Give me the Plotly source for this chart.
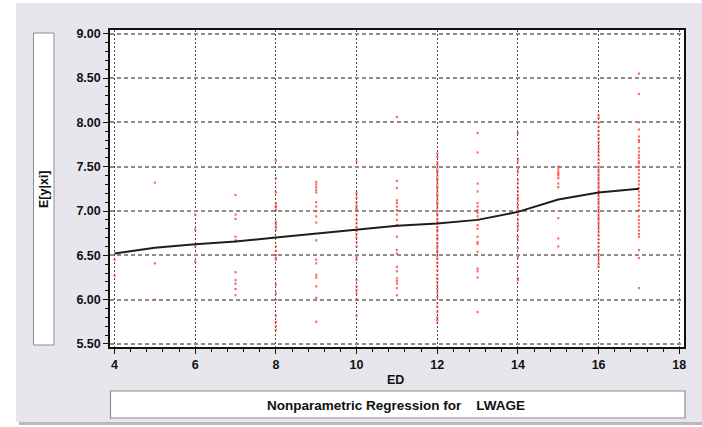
import plotly.graph_objects as go

# ---------------- data ----------------
lw_4 = [6.45, 6.27]
lw_5 = [7.32, 6.41, 6.00]
lw_6 = [6.96, 6.79, 6.60, 6.43]
lw_7 = [7.18, 6.96, 6.91, 6.71, 6.67, 6.66, 6.31, 6.22, 6.18, 6.12, 6.05]
lw_8 = [7.57, 7.37, 7.21, 7.09, 7.06, 7.04, 7.01, 6.88, 6.85, 6.82, 6.79, 6.60,
        6.55, 6.50, 6.47, 6.45, 6.17, 6.07, 6.00, 5.82, 5.75, 5.70, 5.66]
lw_9 = [7.33, 7.30, 7.27, 7.24, 7.21, 7.10, 7.05, 7.00, 6.94, 6.87, 6.67, 6.45,
        6.41, 6.28, 6.25, 6.15, 6.02, 5.75]
lw_10 = [7.56, 7.20, 7.15, 7.10, 7.06, 7.03, 7.01, 6.95, 6.90, 6.86, 6.82, 6.78,
         6.74, 6.70, 6.65, 6.60, 6.48, 6.45, 6.22, 6.15, 6.11, 6.07, 6.00, 5.82]
lw_11 = [8.06, 7.34, 7.26, 7.12, 7.09, 7.05, 7.01, 6.96, 6.90, 6.84, 6.71, 6.56,
         6.52, 6.37, 6.32, 6.24, 6.21, 6.18, 6.13, 6.05]
lw_12 = [7.65, 7.61, 7.55, 7.52, 7.48, 7.45, 7.43, 7.39, 7.36, 7.34, 7.30, 7.27,
         7.25, 7.21, 7.18, 7.16, 7.12, 7.09, 7.07, 7.03, 7.00, 6.97, 6.95, 6.91,
         6.88, 6.86, 6.82, 6.79, 6.77, 6.73, 6.70, 6.68, 6.64, 6.61, 6.58, 6.55,
         6.53, 6.49, 6.46, 6.42, 6.38, 6.33, 6.28, 6.24, 6.20, 6.16, 6.12, 6.08,
         6.03, 5.96, 5.92, 5.86, 5.80, 5.77, 5.74]
lw_13 = [7.88, 7.66, 7.31, 7.22, 7.09, 7.05, 7.01, 6.98, 6.94, 6.90, 6.84, 6.80,
         6.71, 6.65, 6.63, 6.54, 6.35, 6.32, 6.25, 5.86]
lw_14 = [7.88, 7.59, 7.56, 7.48, 7.44, 7.35, 7.31, 7.26, 7.22, 7.18, 7.15, 7.12,
         7.07, 7.03, 7.00, 6.96, 6.90, 6.86, 6.83, 6.79, 6.71, 6.67, 6.58, 6.48,
         6.37, 6.24, 6.22]
lw_15 = [7.50, 7.47, 7.44, 7.42, 7.40, 7.37, 7.31, 7.27, 6.92, 6.69, 6.60]
lw_16 = [8.08, 8.05, 8.00, 7.95, 7.90, 7.86, 7.82, 7.78, 7.74, 7.70, 7.66, 7.62,
         7.58, 7.54, 7.50, 7.47, 7.44, 7.41, 7.38, 7.35, 7.32, 7.29, 7.26, 7.23,
         7.20, 7.17, 7.14, 7.11, 7.08, 7.05, 7.02, 6.99, 6.96, 6.93, 6.90, 6.87,
         6.84, 6.80, 6.76, 6.72, 6.68, 6.64, 6.60, 6.56, 6.52, 6.48, 6.44, 6.40, 6.37]
lw_17 = [8.55, 8.32, 8.00, 7.92, 7.84, 7.80, 7.78, 7.71, 7.67, 7.63, 7.60, 7.56,
         7.54, 7.50, 7.46, 7.42, 7.38, 7.34, 7.30, 7.26, 7.22, 7.18, 7.14, 7.10,
         7.06, 7.01, 6.94, 6.90, 6.86, 6.82, 6.78, 6.74, 6.71, 6.56, 6.47, 6.13]

ed_levels = [4, 5, 6, 7, 8, 9, 10, 11, 12, 13, 14, 15, 16, 17]
lw_by_ed = [lw_4, lw_5, lw_6, lw_7, lw_8, lw_9, lw_10, lw_11, lw_12, lw_13,
            lw_14, lw_15, lw_16, lw_17]

fit_ed = [4, 5, 6, 7, 8, 9, 10, 11, 12, 13, 14, 15, 16, 17]
fit_val = [6.52, 6.585, 6.625, 6.655, 6.70, 6.745, 6.79, 6.835, 6.86, 6.90,
           6.99, 7.13, 7.21, 7.25]

x_ticks = [4, 6, 8, 10, 12, 14, 16, 18]
y_ticks = [5.5, 6.0, 6.5, 7.0, 7.5, 8.0, 8.5, 9.0]

# ---------------- figure ----------------
W, H = 702, 427
L, R, T, B = 110, 684, 30, 347

def px_x(p):
    return (p - L) / (R - L)

def px_y(p):
    return (B - p) / (B - T)

pts_x, pts_y = [], []
for e, vals in zip(ed_levels, lw_by_ed):
    pts_x += [e] * len(vals)
    pts_y += vals

fig = go.Figure()
fig.add_trace(go.Scatter(
    x=pts_x, y=pts_y, mode="markers",
    marker=dict(symbol="square", size=2.2, color="rgba(255,55,55,0.75)",
                line=dict(width=0)),
    hoverinfo="skip", showlegend=False))
fig.add_trace(go.Scatter(
    x=fit_ed, y=fit_val, mode="lines",
    line=dict(color="#1e1e1e", width=2),
    showlegend=False))

font_b = "Liberation Sans, Arial, sans-serif"

shapes = [
    # outer gray panel with shadow
    dict(type="rect", xref="paper", yref="paper",
         x0=px_x(19), x1=px_x(705), y0=px_y(425), y1=px_y(6),
         fillcolor="#b9b8bd", line=dict(width=0), layer="below"),
    dict(type="rect", xref="paper", yref="paper",
         x0=px_x(16), x1=px_x(702), y0=px_y(422), y1=px_y(3),
         fillcolor="#e8e6ed", line=dict(width=0), layer="below"),
    # plot area white
    dict(type="rect", xref="paper", yref="paper",
         x0=0, x1=1, y0=0, y1=1,
         fillcolor="white", line=dict(width=0), layer="below"),
    # y title box
    dict(type="rect", xref="paper", yref="paper",
         x0=px_x(33.5), x1=px_x(54), y0=px_y(345), y1=px_y(33),
         fillcolor="white", line=dict(color="#8c8c8c", width=1), layer="below"),
    # bottom title box
    dict(type="rect", xref="paper", yref="paper",
         x0=px_x(110.5), x1=px_x(685), y0=px_y(418), y1=px_y(391),
         fillcolor="white", line=dict(color="#8c8c8c", width=1.2), layer="below"),
    # thicker right frame edge
    dict(type="line", xref="paper", yref="paper",
         x0=px_x(685), x1=px_x(685), y0=0, y1=1,
         line=dict(color="#111", width=2)),
]

annotations = [
    dict(text="<b>E[y|xi]</b>", xref="paper", yref="paper",
         x=px_x(44), y=px_y(189), textangle=-90, showarrow=False,
         font=dict(family=font_b, size=12.5, color="#111"),
         xanchor="center", yanchor="middle"),
    dict(text="<b>ED</b>", xref="paper", yref="paper",
         x=px_x(395), y=px_y(380), showarrow=False,
         font=dict(family=font_b, size=12.5, color="#111"),
         xanchor="center", yanchor="middle"),
    dict(text="<b>Nonparametric Regression for\u00a0\u00a0\u00a0\u00a0LWAGE</b>",
         xref="paper", yref="paper",
         x=px_x(396), y=px_y(405), showarrow=False,
         font=dict(family=font_b, size=13.5, color="#111"),
         xanchor="center", yanchor="middle"),
]

fig.update_layout(
    width=W, height=H,
    margin=dict(l=L, r=W - R, t=T, b=H - B, pad=0),
    paper_bgcolor="white", plot_bgcolor="white",
    shapes=shapes, annotations=annotations,
    showlegend=False,
)
fig.update_xaxes(
    range=[3.888, 18.117], tickvals=x_ticks, ticktext=[str(v) for v in x_ticks],
    ticks="outside", ticklen=5, tickwidth=1.2, tickcolor="#111",
    minor=dict(dtick=0.4, tick0=4, ticks="outside", ticklen=3, tickcolor="#111",
               showgrid=False),
    showgrid=True, gridcolor="#4a4a4a", griddash="2px,2px", gridwidth=1,
    showline=True, linecolor="#111", linewidth=1.5, mirror=True,
    zeroline=False,
    tickfont=dict(family=font_b, size=12.5, color="#111", weight="bold"),
)
fig.update_yaxes(
    range=[5.466, 9.042], tickvals=y_ticks, ticktext=[f"{v:.2f}" for v in y_ticks],
    ticks="outside", ticklen=5, tickwidth=1.2, tickcolor="#111",
    minor=dict(dtick=0.1, tick0=5.5, ticks="outside", ticklen=3, tickcolor="#111",
               showgrid=False),
    showgrid=True, gridcolor="#8c8c8c", griddash="4px,3px", gridwidth=1.5,
    showline=True, linecolor="#111", linewidth=1.5, mirror=True,
    zeroline=False,
    tickfont=dict(family=font_b, size=12.5, color="#111", weight="bold"),
)

fig.write_html("out.html")
